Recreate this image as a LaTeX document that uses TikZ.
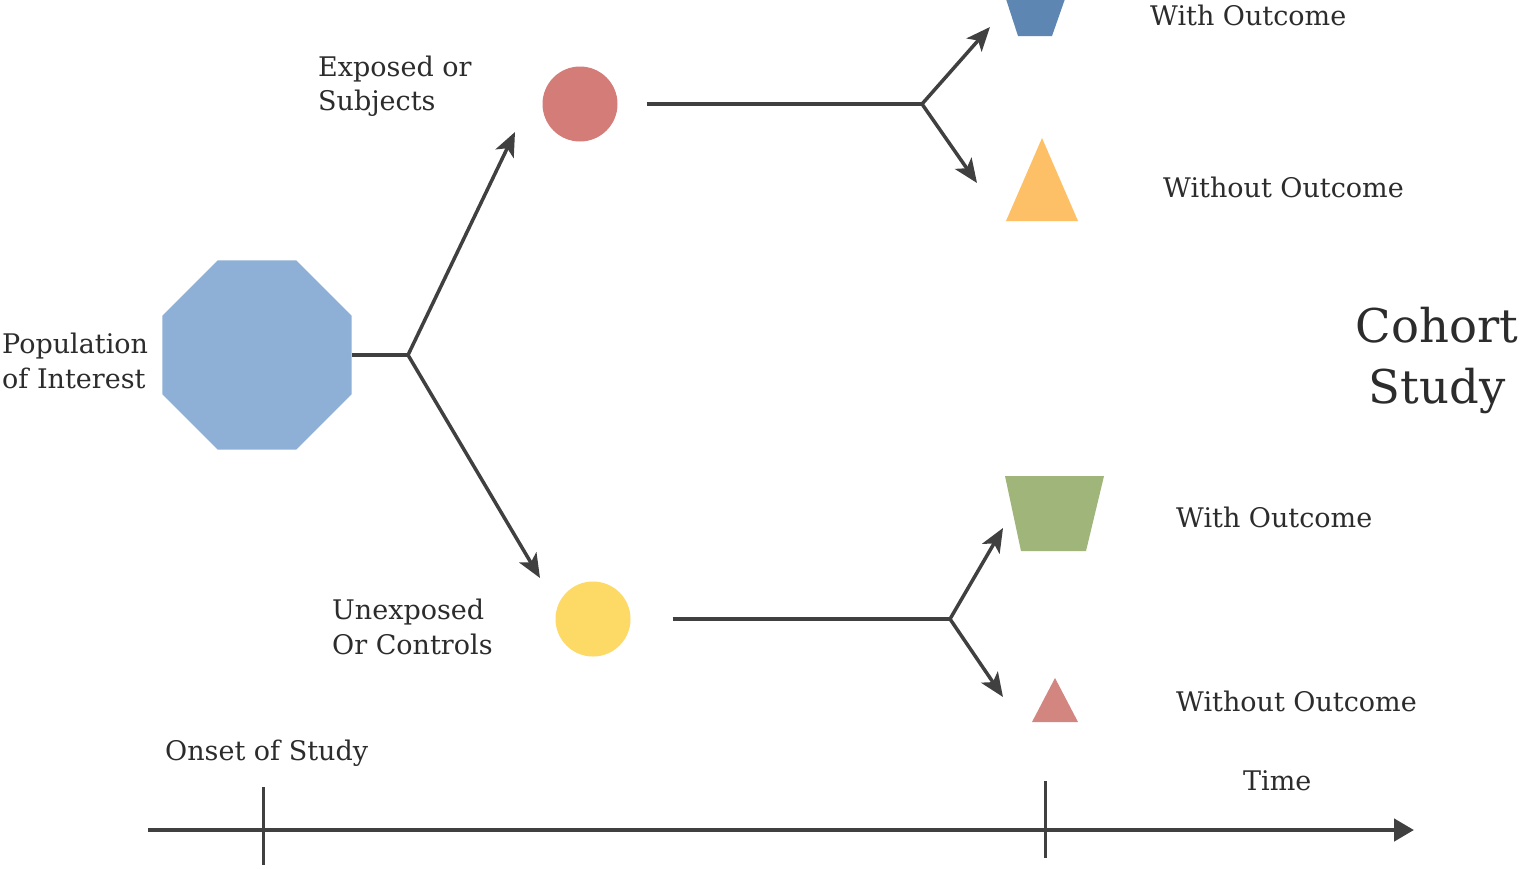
\documentclass[tikz,border=0pt]{standalone}
\usepackage{fontspec}
\setmainfont{DejaVu Serif}
\usepackage{tikz}
\usetikzlibrary{arrows.meta,shapes.geometric,positioning}

\definecolor{popblue}{HTML}{8EB0D6}
\definecolor{expred}{HTML}{D47C78}
\definecolor{unexpyellow}{HTML}{FDD966}
\definecolor{outblue}{HTML}{5E86B2}
\definecolor{outorange}{HTML}{FDC066}
\definecolor{outgreen}{HTML}{9FB57A}
\definecolor{outred}{HTML}{D3857F}
\definecolor{linegray}{HTML}{404040}
\definecolor{txtgray}{HTML}{2C2C2C}

\tikzset{
  lbl/.style={text=txtgray, font=\fontsize{27}{34.5}\selectfont, align=left, inner sep=0pt, anchor=west},
  link/.style={draw=linegray, line width=3.5pt},
  branch/.style={link, -{Stealth[length=24pt,width=20pt,inset=6pt]}},
}

\begin{document}
\begin{tikzpicture}[x=1pt,y=-1pt]
        \useasboundingbox[fill=white] (0,0) rectangle (1522,868);

        % groups
        \node[regular polygon, regular polygon sides=8, fill=popblue, minimum size=205pt, inner sep=0pt] (pop) at (257,355) {};
        \node[circle, fill=expred, minimum size=75pt, inner sep=0pt] (exposed) at (580,104) {};
        \node[circle, fill=unexpyellow, minimum size=75pt, inner sep=0pt] (unexposed) at (593,619) {};

        % outcomes
        \fill[outblue] (1005,-4) -- (1066,-4) -- (1052,36) -- (1018,36) -- cycle;
        \fill[outorange] (1006,221) -- (1042,138) -- (1078,221) -- cycle;
        \fill[outgreen] (1005,476) -- (1104,476) -- (1086,551) -- (1021,551) -- cycle;
        \fill[outred] (1032,722) -- (1055,678) -- (1078,722) -- cycle;

        % labels
        \node[lbl] (poplbl) at (2,361) {Population\\of Interest};
        \node[lbl] (explbl) at (318,86) {Exposed or\\Subjects};
        \node[lbl] (unexplbl) at (332,627) {Unexposed\\Or Controls};
        \node[lbl] (with1) at (1150,15) {With Outcome};
        \node[lbl] (without1) at (1163,187) {Without Outcome};
        \node[lbl] (with2) at (1176,517) {With Outcome};
        \node[lbl] (without2) at (1176,701) {Without Outcome};
        \node[lbl, font=\fontsize{46.5}{61}\selectfont, align=center, anchor=center] (title) at (1437,360) {Cohort\\Study};
        \node[lbl] (onset) at (165,753) {Onset of Study};
        \node[lbl] (time) at (1243,781) {Time};

        % branch points
        \coordinate (split) at (408,355);
        \coordinate (splitexp) at (922,104);
        \coordinate (splitunexp) at (950,619);
        \coordinate (toexp) at (515,132);
        \coordinate (tounexp) at (540,578);
        \coordinate (towith1) at (990,27);
        \coordinate (towithout1) at (977,183);
        \coordinate (towith2) at (1003,528);
        \coordinate (towithout2) at (1003,697);

        \draw[link] (pop.east) -- (split);
        \draw[branch] (split) -- (toexp);
        \draw[branch] (split) -- (tounexp);

        \draw[link, shorten <=29pt] (exposed.east) -- (splitexp);
        \draw[branch] (splitexp) -- (towith1);
        \draw[branch] (splitexp) -- (towithout1);

        \draw[link, shorten <=42pt] (unexposed.east) -- (splitunexp);
        \draw[branch] (splitunexp) -- (towith2);
        \draw[branch] (splitunexp) -- (towithout2);

        % time axis
        \coordinate (tstart) at (148,830);
        \coordinate (tend) at (1414,830);
        \coordinate (onsettop) at (263,787);
        \coordinate (onsetbot) at (263,865);
        \coordinate (endtop) at (1045,781);
        \coordinate (endbot) at (1045,858);
        \draw[draw=linegray, line width=4.5pt, -{Triangle[length=20pt,width=22pt]}] (tstart) -- (tend);
        \draw[draw=linegray, line width=3pt] (onsettop) -- (onsetbot);
        \draw[draw=linegray, line width=3pt] (endtop) -- (endbot);
    \end{tikzpicture}
\end{document}
